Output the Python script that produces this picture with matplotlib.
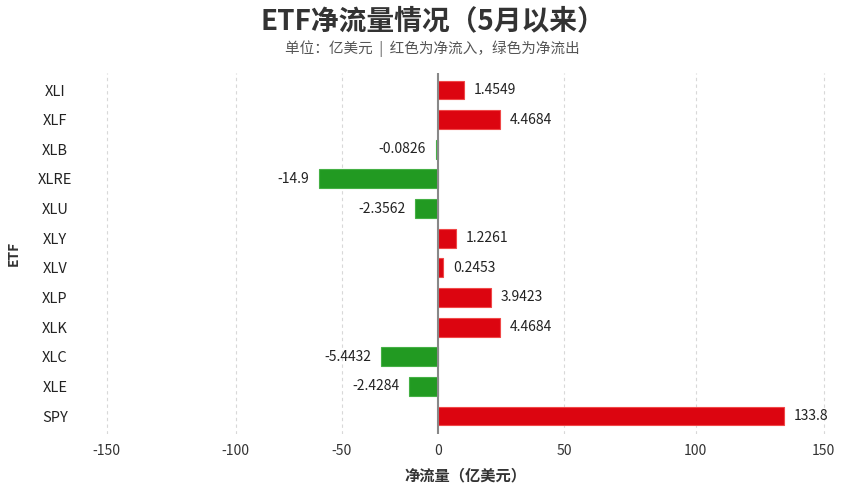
import numpy as np
import matplotlib
matplotlib.use("Agg")
import matplotlib.pyplot as plt

plt.rcParams['font.family'] = ['Noto Sans CJK SC', 'DejaVu Sans']

categories = ["XLI", "XLF", "XLB", "XLRE", "XLU", "XLY", "XLV", "XLP", "XLK", "XLC", "XLE", "SPY"]
bar_values = [10.2, 24.6, -1.4, -60.8, -12.1, 7.1, 2.0, 20.9, 24.6, -29.5, -15.3, 134.6]
value_labels = ["1.4549", "4.4684", "-0.0826", "-14.9", "-2.3562", "1.2261", "0.2453",
                "3.9423", "4.4684", "-5.4432", "-2.4284", "133.8"]
x_ticks = [-150, -100, -50, 0, 50, 100, 150]

# axis mapping of the reference (tick spacing is uneven in the picture)
_anch_d = np.array([-250, -150, -100, -50, 0, 50, 100, 150, 250])
_anch_p = np.array([-151.3, 106.7, 235.7, 341.7, 438.3, 564.3, 695.7, 823.7, 1079.7])

def fwd(x):
    return np.interp(x, _anch_d, _anch_p)

def inv(p):
    return np.interp(p, _anch_p, _anch_d)

W, H = 865, 487
fig = plt.figure(figsize=(W / 100, H / 100), dpi=100)
left_px, right_px, top_px, bot_px = 80, 850, 73, 434
ax = fig.add_axes([left_px / W, 1 - bot_px / H, (right_px - left_px) / W, (bot_px - top_px) / H])
ax.set_xscale('function', functions=(fwd, inv))
ax.set_xlim(inv(left_px), inv(right_px))

y = np.arange(len(categories))
red = '#DC0510'
green = '#229A22'
colors = [red if v >= 0 else green for v in bar_values]
edges = ['#F04848' if v >= 0 else '#45B045' for v in bar_values]
ax.barh(y, bar_values, height=0.64, color=colors, edgecolor=edges, linewidth=0.8, zorder=3)

row = (416 - 90) / 11
ax.set_ylim(11 + (bot_px - 416) / row, -(90 - top_px) / row)

for yi, v, lab in zip(y, bar_values, value_labels):
    if v >= 0:
        ax.annotate(lab, (v, yi), xytext=(7, 0), textcoords='offset points',
                    ha='left', va='center', fontsize=10, color='#222222')
    else:
        ax.annotate(lab, (v, yi), xytext=(-7, 0), textcoords='offset points',
                    ha='right', va='center', fontsize=10, color='#222222')

ax.set_xticks(x_ticks)
ax.set_xticklabels([str(t) for t in x_ticks])
ax.set_yticks(y)
ax.set_yticklabels(categories)
for t in ax.get_yticklabels():
    t.set_horizontalalignment('center')
ax.tick_params(axis='y', length=0, pad=18, labelsize=10.5, labelcolor='#222222')
ax.tick_params(axis='x', length=0, pad=7, labelsize=10, labelcolor='#333333')

for t in x_ticks:
    if t == 0:
        ax.axvline(0, color='#888888', linewidth=1.5, zorder=4)
    else:
        ax.axvline(t, color='#D8D8D8', linewidth=0.8, linestyle=(0, (3, 3)), zorder=1)

for s in ax.spines.values():
    s.set_visible(False)

ax.set_xlabel('净流量（亿美元）', fontsize=11, fontweight='bold', color='#333333', labelpad=7)
ax.set_ylabel('ETF', fontsize=10, fontweight='bold', color='#333333', labelpad=12)

fig.text(0.5, 1 - 21 / H, 'ETF净流量情况（5月以来）', ha='center', va='center',
         fontsize=20, fontweight='bold', color='#333333')
fig.text(0.5, 1 - 49 / H, '单位：亿美元  |  红色为净流入，绿色为净流出', ha='center', va='center',
         fontsize=10.5, color='#555555')

fig.savefig('out.png', dpi=100)
